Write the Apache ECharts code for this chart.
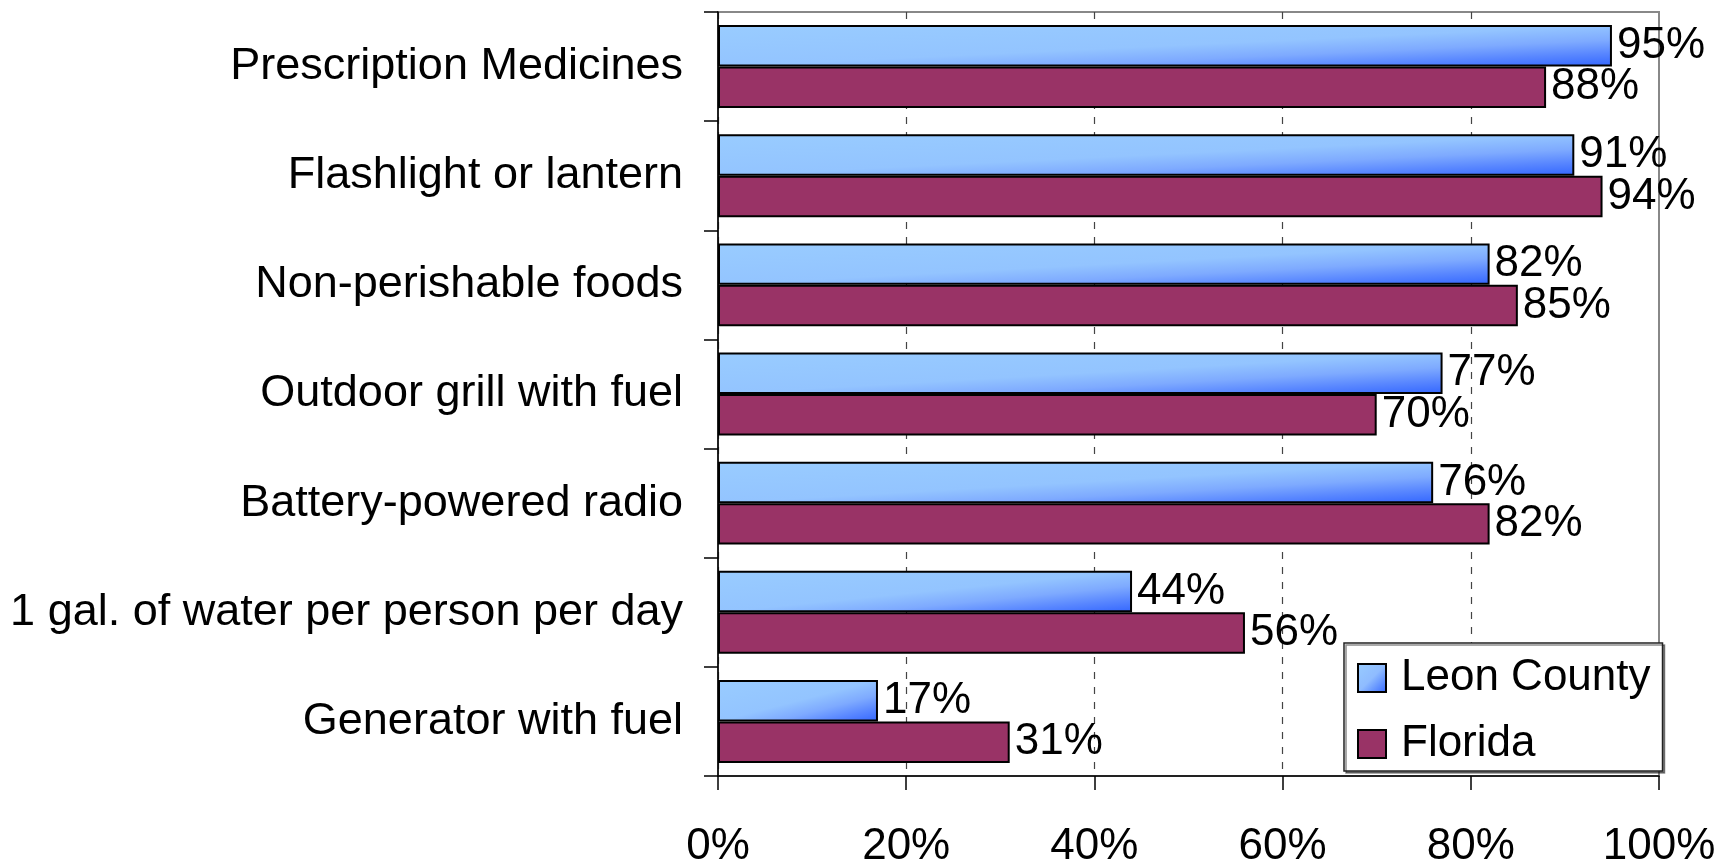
<!DOCTYPE html>
<html>
<head>
<meta charset="utf-8">
<title>Emergency supplies</title>
<script src="https://cdn.jsdelivr.net/npm/echarts@6/dist/echarts.min.js"></script>
<style>
  html, body { margin: 0; padding: 0; background: #fff; }
  #chart { width: 1732px; height: 861px; }
</style>
</head>
<body>
<div id="chart"></div>
<script>
// categories top to bottom
var items = ['Prescription Medicines', 'Flashlight or lantern', 'Non-perishable foods',
             'Outdoor grill with fuel', 'Battery-powered radio',
             '1 gal. of water per person per day', 'Generator with fuel'];
var leon = [95, 91, 82, 77, 76, 44, 17];
var florida = [88, 94, 85, 70, 82, 56, 31];
var xTicks = [0, 20, 40, 60, 80, 100];

var chart = echarts.init(document.getElementById('chart'));

var blueStops = [
  { offset: 0, color: '#99ccff' },
  { offset: 0.5, color: '#93c4ff' },
  { offset: 0.68, color: '#7eaaff' },
  { offset: 0.84, color: '#5886ff' },
  { offset: 1, color: '#3366ff' }
];

// gradient that runs corner to corner in the bar's own box,
// so top-right and bottom-left stay light and only bottom-right goes dark
function boxGradient(w, h) {
  var s = 2 / (1 / (w * w) + 1 / (h * h));
  return new echarts.graphic.LinearGradient(0, 0, s / (w * w), s / (h * h), blueStops);
}

var labelOpt = {
  show: true,
  position: 'right',
  distance: 5,
  formatter: '{c}%',
  fontSize: 44,
  fontFamily: 'Liberation Sans, Arial, sans-serif',
  color: '#000'
};

var option = {
  animation: false,
  grid: {
    left: 718, top: 12, width: 941, height: 764,
    outerBoundsMode: 'none',
    show: true, borderColor: '#888', borderWidth: 2, backgroundColor: '#fff'
  },
  legend: {
    orient: 'vertical',
    left: 1344, top: 643,
    padding: [13, 12, 5, 13],
    itemWidth: 28, itemHeight: 28, itemGap: 22,
    icon: 'rect',
    backgroundColor: '#fff',
    borderColor: '#222', borderWidth: 1.5,
    shadowColor: 'rgba(0,0,0,0.45)', shadowOffsetX: 2, shadowOffsetY: 2, shadowBlur: 0,
    textStyle: {
      fontSize: 44, color: '#000',
      fontFamily: 'Liberation Sans, Arial, sans-serif',
      padding: [0, 0, 0, 10]
    },
    data: ['Leon County', 'Florida']
  },
  xAxis: {
    type: 'value',
    min: xTicks[0], max: xTicks[xTicks.length - 1], interval: 20,
    axisLine: { show: true, lineStyle: { color: '#000', width: 1.5 } },
    axisTick: { show: true, length: 14, lineStyle: { color: '#000', width: 1.5 } },
    axisLabel: {
      formatter: '{value}%', fontSize: 44, margin: 49, color: '#000',
      fontFamily: 'Liberation Sans, Arial, sans-serif'
    },
    splitLine: {
      show: true,
      lineStyle: {
        color: ['#444', '#444', '#444', '#444', '#444', 'rgba(0,0,0,0)'],
        width: 1.2, type: [7, 8]
      }
    }
  },
  yAxis: {
    type: 'category',
    inverse: true,
    data: items,
    axisLine: { show: true, lineStyle: { color: '#000', width: 1.5 } },
    axisTick: { show: true, length: 14, lineStyle: { color: '#000', width: 1.5 } },
    axisLabel: {
      fontSize: 45, margin: 35, color: '#000',
      fontFamily: 'Liberation Sans Narrow, Arial Narrow, Liberation Sans, sans-serif'
    },
    splitLine: { show: false }
  },
  series: [
    {
      name: 'Leon County',
      type: 'bar',
      data: leon,
      barGap: '0%',
      barCategoryGap: '24%',
      itemStyle: {
        color: new echarts.graphic.LinearGradient(0, 0, 1, 1, [
          { offset: 0, color: '#99ccff' },
          { offset: 0.5, color: '#8fbcff' },
          { offset: 1, color: '#3366ff' }
        ]),
        borderColor: '#000', borderWidth: 2
      },
      label: labelOpt
    },
    {
      name: 'Florida',
      type: 'bar',
      data: florida,
      barGap: '0%',
      barCategoryGap: '24%',
      itemStyle: { color: '#993366', borderColor: '#000', borderWidth: 2 },
      label: labelOpt
    }
  ]
};
chart.setOption(option);

// per-bar gradients sized from the chart's own scale
var x0 = chart.convertToPixel({ gridIndex: 0 }, [0, 0])[0];
var bandH = 764 / items.length * 0.76 / 2;
var leonItems = leon.map(function (v) {
  var w = chart.convertToPixel({ gridIndex: 0 }, [v, 0])[0] - x0;
  return { value: v, itemStyle: { color: boxGradient(w, bandH) } };
});
chart.setOption({ series: [{ name: 'Leon County', data: leonItems }] });
</script>
</body>
</html>
